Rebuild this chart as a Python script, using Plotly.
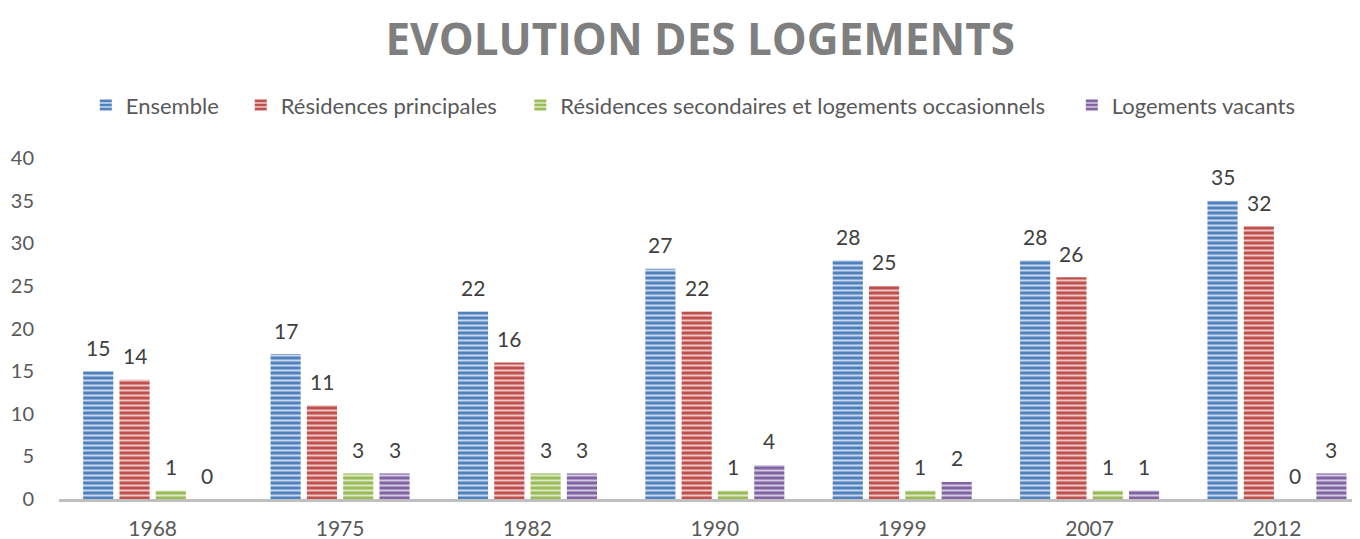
import plotly.graph_objects as go

years = ["1968", "1975", "1982", "1990", "1999", "2007", "2012"]
series_names = [
    "Ensemble",
    "Résidences principales",
    "Résidences secondaires et logements occasionnels",
    "Logements vacants",
]
ensemble = [15, 17, 22, 27, 28, 28, 35]
principales = [14, 11, 16, 22, 25, 26, 32]
secondaires = [1, 3, 3, 1, 1, 1, 0]
vacants = [0, 3, 3, 4, 2, 1, 3]
values = [ensemble, principales, secondaires, vacants]

colors = ["#4F81BD", "#C0504D", "#9BBB59", "#8064A2"]
light = ["#C9D8EE", "#EDC6C5", "#DCE9C6", "#D4C9E2"]
legend_ids = ["legend", "legend2", "legend3", "legend4"]
legend_x = [0.0206, 0.1397, 0.3546, 0.7785]

fig = go.Figure()
for name, vals, c, lc, lid in zip(series_names, values, colors, light, legend_ids):
    fig.add_trace(go.Bar(
        x=years, y=vals, name=name, legend=lid, showlegend=True,
        marker=dict(
            color=c,
            line=dict(width=0),
            pattern=dict(shape="-", bgcolor=c, fgcolor=lc, fgopacity=1,
                         size=5, solidity=0.4, fillmode="replace"),
        ),
    ))

# data labels (x given as category index on the category axis)
pitch = 36.3
for i, vals in enumerate(values):
    for j, v in enumerate(vals):
        fig.add_annotation(
            x=j, y=v, xref="x", yref="y", text=str(v), showarrow=False,
            xshift=(i - 1.5) * pitch, yshift=24, yanchor="middle",
            font=dict(family="Lato", size=21, color="#404040"),
        )

legend_style = dict(orientation="h", xanchor="left", y=1.155, yanchor="middle",
                    font=dict(family="Lato", size=22, color="#595959"),
                    itemwidth=30, bgcolor="rgba(0,0,0,0)")
legends = {lid: dict(x=lx, **legend_style) for lid, lx in zip(legend_ids, legend_x)}

fig.update_layout(
    width=1352, height=531,
    showlegend=True,
    paper_bgcolor="white", plot_bgcolor="white",
    margin=dict(l=51, r=0, t=150, b=40),
    barmode="group", bargap=0.225, bargroupgap=0.17,
    title=dict(text="<b>EVOLUTION DES LOGEMENTS</b>", x=0.512, xanchor="center",
               y=0.94, yanchor="middle",
               font=dict(family="Open Sans", size=44, color="#7F7F7F")),
    font=dict(family="Lato", color="#595959"),
    xaxis=dict(type="category", range=[-0.5, 6.443], showgrid=False, showline=True,
               linecolor="#BFBFBF", linewidth=3, ticks="", ticklabelstandoff=9,
               automargin=False,
               tickfont=dict(family="Lato", size=21, color="#595959")),
    yaxis=dict(range=[0, 40], dtick=5, showgrid=False, showline=False, zeroline=False,
               ticks="", ticklabelstandoff=24, automargin=False,
               tickfont=dict(family="Lato", size=20, color="#595959")),
    **legends,
)

fig.write_html("out.html")
